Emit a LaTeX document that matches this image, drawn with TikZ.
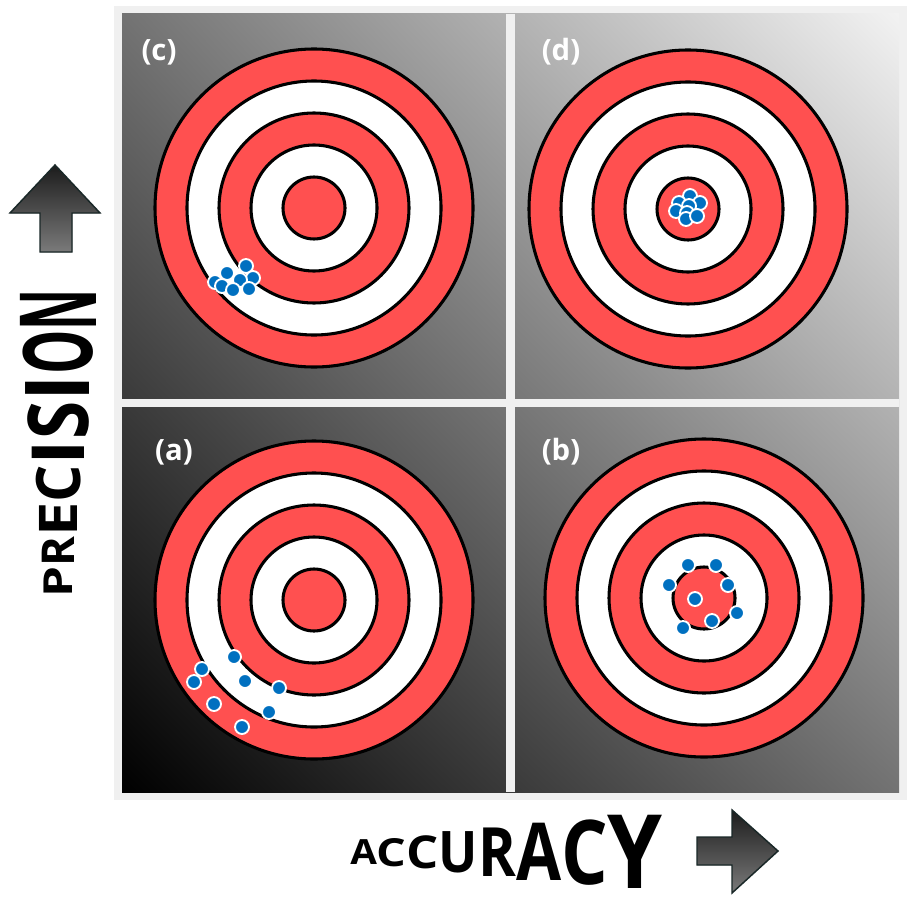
\documentclass[tikz,border=0pt]{standalone}
\usepackage{fontspec}
\setmainfont{Open Sans}
\usepackage{graphicx}
\usetikzlibrary{positioning, shadings}
\definecolor{targetred}{HTML}{FF5050}
\definecolor{shotblue}{HTML}{0070C0}
\definecolor{framegrey}{HTML}{F0F0F0}
\definecolor{arrowedge}{HTML}{1A2828}
\definecolor{arrowtop}{HTML}{1C1C1C}
\definecolor{arrowbottom}{HTML}{7A7A7A}

% one letter of a warped axis title: x scale, y scale, letter
\newcommand{\warpch}[3]{\raisebox{-0.5\height}{\scalebox{#1}[#2]{#3}}}

\tikzset{
  ring/.style={draw=black, line width=2.3pt},
  shot/.style={fill=shotblue, draw=white, line width=1.4pt},
  panellabel/.style={white, inner sep=0pt, font=\fontsize{22}{22}\selectfont\bfseries},
  axistitle/.style={black, inner sep=0pt, font=\fontsize{20}{20}\selectfont\bfseries},
  axisarrow/.style={draw=arrowedge, line width=1.1pt, top color=arrowtop, bottom color=arrowbottom}
}

\begin{document}
\begin{tikzpicture}[x=0.75pt, y=0.75pt]
  % Canvas
  \useasboundingbox (0,0) rectangle (919,-913);
  \fill[white] (0,0) rectangle (919,-913);

  % Light frame and the one diagonal grey field behind all four panels
  \fill[framegrey] (114,-6) rectangle (907,-800);
  \shade[shading=bilinear interpolation, upper left=black!55, upper right=black!5,
    lower left=black, lower right=black!55] (122,-14) rectangle (899,-792);

  % Gaps between the panels
  \fill[framegrey] (506,-14) rectangle (515,-792);
  \fill[framegrey] (122,-399) rectangle (899,-407);

  % Target (c) - precise, not accurate
  \begin{scope}[shift={(314,-208)}]
    \filldraw[ring, fill=targetred] (0,0) circle (159);
    \filldraw[ring, fill=white] (0,0) circle (127);
    \filldraw[ring, fill=targetred] (0,0) circle (95);
    \filldraw[ring, fill=white] (0,0) circle (63);
    \filldraw[ring, fill=targetred] (0,0) circle (31);
  \end{scope}
  \foreach \p in {(215,-282),(227,-273),(246,-266),(253,-278),(240,-280),(222,-286),(233,-290),(249,-289)}
    \filldraw[shot] \p circle (7);

  % Target (d) - precise and accurate
  \begin{scope}[shift={(688,-209)}]
    \filldraw[ring, fill=targetred] (0,0) circle (159);
    \filldraw[ring, fill=white] (0,0) circle (127);
    \filldraw[ring, fill=targetred] (0,0) circle (95);
    \filldraw[ring, fill=white] (0,0) circle (63);
    \filldraw[ring, fill=targetred] (0,0) circle (31);
  \end{scope}
  \foreach \p in {(690,-196),(679,-203),(700,-203),(676,-211),(689,-206),(687,-213),(686,-219),(697,-216)}
    \filldraw[shot] \p circle (7);

  % Target (a) - neither precise nor accurate
  \begin{scope}[shift={(314,-600)}]
    \filldraw[ring, fill=targetred] (0,0) circle (159);
    \filldraw[ring, fill=white] (0,0) circle (127);
    \filldraw[ring, fill=targetred] (0,0) circle (95);
    \filldraw[ring, fill=white] (0,0) circle (63);
    \filldraw[ring, fill=targetred] (0,0) circle (31);
  \end{scope}
  \foreach \p in {(234,-657),(202,-669),(194,-682),(245,-681),(279,-688),(214,-704),(269,-712),(242,-727)}
    \filldraw[shot] \p circle (7);

  % Target (b) - accurate, not precise
  \begin{scope}[shift={(704,-598)}]
    \filldraw[ring, fill=targetred] (0,0) circle (159);
    \filldraw[ring, fill=white] (0,0) circle (127);
    \filldraw[ring, fill=targetred] (0,0) circle (95);
    \filldraw[ring, fill=white] (0,0) circle (63);
    \filldraw[ring, fill=targetred] (0,0) circle (31);
  \end{scope}
  \foreach \p in {(688,-565),(716,-565),(669,-585),(728,-585),(695,-599),(737,-613),(712,-621),(683,-628)}
    \filldraw[shot] \p circle (7);

  % Panel labels
  \node[panellabel] (labc) at (159,-52) {(c)};
  \node[panellabel] (labd) at (561,-52) {(d)};
  \node[panellabel] (laba) at (174,-452) {(a)};
  \node[panellabel] (labb) at (561,-452) {(b)};

  % Vertical axis: arrow and warped title
  \filldraw[axisarrow] (55,-165) -- (100,-213) -- (72,-213) -- (72,-252)
    -- (40,-252) -- (40,-213) -- (10,-213) -- cycle;
  \node[axistitle, rotate=90, anchor=west] (precision) at (58,-598)
    {\warpch{1.85}{1.5}{P}\warpch{1.7}{1.7}{R}\warpch{2.3}{2.0}{E}\warpch{2.2}{2.3}{C}\warpch{2.9}{2.75}{I}\warpch{2.6}{3.15}{S}\warpch{3.0}{3.36}{I}\warpch{2.1}{3.6}{O}\warpch{1.9}{4.0}{N}};

  % Horizontal axis: warped title and arrow
  \node[axistitle, anchor=west] (accuracy) at (350,-852)
    {\warpch{1.45}{1.3}{A}\warpch{1.75}{1.45}{C}\warpch{1.9}{1.7}{C}\warpch{1.95}{2.15}{U}\warpch{2.15}{2.55}{R}\warpch{2.45}{3.0}{A}\warpch{2.75}{3.35}{C}\warpch{3.3}{3.85}{Y}};
  \filldraw[axisarrow] (697,-837) -- (732,-837) -- (732,-810) -- (778,-851)
    -- (732,-893) -- (732,-865) -- (697,-865) -- cycle;
\end{tikzpicture}
\end{document}
